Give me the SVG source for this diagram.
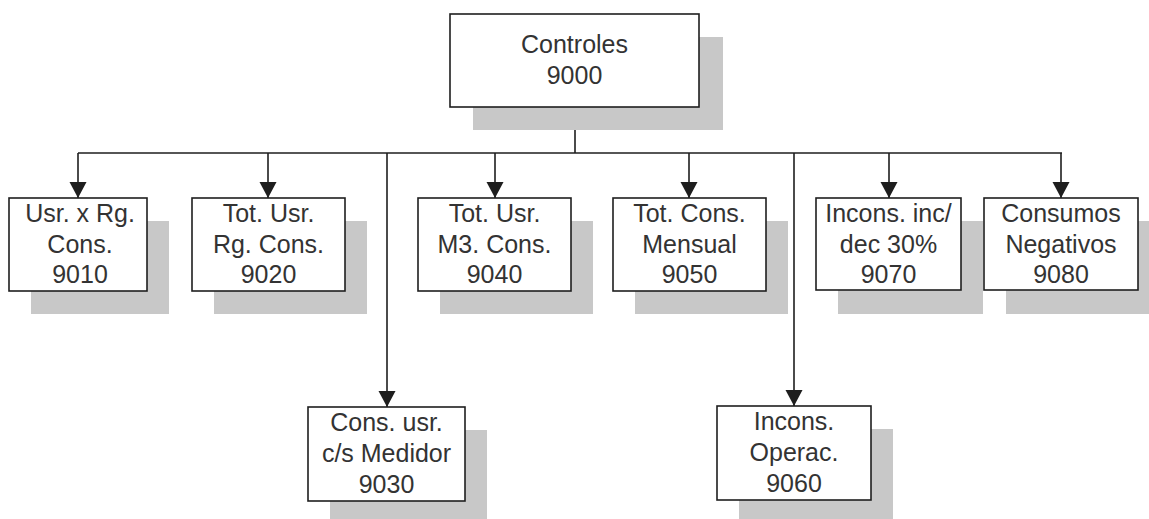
<svg xmlns="http://www.w3.org/2000/svg" width="1149" height="519" viewBox="0 0 1149 519">
<style>
.box{fill:#fff;stroke:#1e1e1e;stroke-width:1.6}
.sh{fill:#c8c8c8}
.t{font-family:"Liberation Sans",Arial,sans-serif;font-size:25px;fill:#333;text-anchor:middle}
.ln{stroke:#1e1e1e;stroke-width:1.6;fill:none}
</style>
<defs>
<marker id="ah" markerUnits="userSpaceOnUse" markerWidth="17" markerHeight="18" refX="16" refY="9" orient="auto">
<path d="M0,0.5 L16,9 L0,17.5 z" fill="#1e1e1e"/>
</marker>
</defs>
<rect width="1149" height="519" fill="#fff"/>
<g id="connectors">
<path class="ln" d="M575,107 V153"/>
<path class="ln" d="M78,153 H1062"/>
<path class="ln" d="M78,153 V198" marker-end="url(#ah)"/>
<path class="ln" d="M268,153 V198" marker-end="url(#ah)"/>
<path class="ln" d="M387,153 V407" marker-end="url(#ah)"/>
<path class="ln" d="M495,153 V198" marker-end="url(#ah)"/>
<path class="ln" d="M689,153 V198" marker-end="url(#ah)"/>
<path class="ln" d="M794,153 V406" marker-end="url(#ah)"/>
<path class="ln" d="M889,153 V198" marker-end="url(#ah)"/>
<path class="ln" d="M1061,153 V198" marker-end="url(#ah)"/>
</g>
<g id="n9000">
<rect class="sh" x="473" y="37" width="250" height="93"/>
<rect class="box" x="450" y="14" width="249" height="93"/>
<text class="t" x="574.5" y="53">Controles</text>
<text class="t" x="574.5" y="84">9000</text>
</g>
<g id="n9010">
<rect class="sh" x="31" y="221" width="138" height="93"/>
<rect class="box" x="9" y="198" width="138" height="93"/>
<text class="t" x="80" y="222">Usr. x Rg.</text>
<text class="t" x="80" y="253">Cons.</text>
<text class="t" x="80" y="283">9010</text>
</g>
<g id="n9020">
<rect class="sh" x="214" y="221" width="153" height="93"/>
<rect class="box" x="192" y="198" width="153" height="93"/>
<text class="t" x="268.5" y="222">Tot. Usr.</text>
<text class="t" x="268.5" y="253">Rg. Cons.</text>
<text class="t" x="268.5" y="283">9020</text>
</g>
<g id="n9040">
<rect class="sh" x="440" y="221" width="153" height="93"/>
<rect class="box" x="418" y="198" width="153" height="93"/>
<text class="t" x="494.5" y="222">Tot. Usr.</text>
<text class="t" x="494.5" y="253">M3. Cons.</text>
<text class="t" x="494.5" y="283">9040</text>
</g>
<g id="n9050">
<rect class="sh" x="635" y="221" width="153" height="93"/>
<rect class="box" x="613" y="198" width="153" height="93"/>
<text class="t" x="689.5" y="222">Tot. Cons.</text>
<text class="t" x="689.5" y="253">Mensual</text>
<text class="t" x="689.5" y="283">9050</text>
</g>
<g id="n9070">
<rect class="sh" x="838" y="221" width="145" height="93"/>
<rect class="box" x="816" y="198" width="145" height="92"/>
<text class="t" x="888.5" y="222">Incons. inc/</text>
<text class="t" x="888.5" y="253">dec 30%</text>
<text class="t" x="888.5" y="283">9070</text>
</g>
<g id="n9080">
<rect class="sh" x="1006" y="221" width="154" height="93"/>
<rect class="box" x="984" y="198" width="154" height="92"/>
<text class="t" x="1061" y="222">Consumos</text>
<text class="t" x="1061" y="253">Negativos</text>
<text class="t" x="1061" y="283">9080</text>
</g>
<g id="n9030">
<rect class="sh" x="330" y="430" width="157" height="94"/>
<rect class="box" x="308" y="407" width="157" height="94"/>
<text class="t" x="386.5" y="431">Cons. usr.</text>
<text class="t" x="386.5" y="462">c/s Medidor</text>
<text class="t" x="386.5" y="493">9030</text>
</g>
<g id="n9060">
<rect class="sh" x="739" y="429" width="154" height="94"/>
<rect class="box" x="717" y="406" width="154" height="94"/>
<text class="t" x="794" y="430">Incons.</text>
<text class="t" x="794" y="461">Operac.</text>
<text class="t" x="794" y="492">9060</text>
</g>
</svg>
